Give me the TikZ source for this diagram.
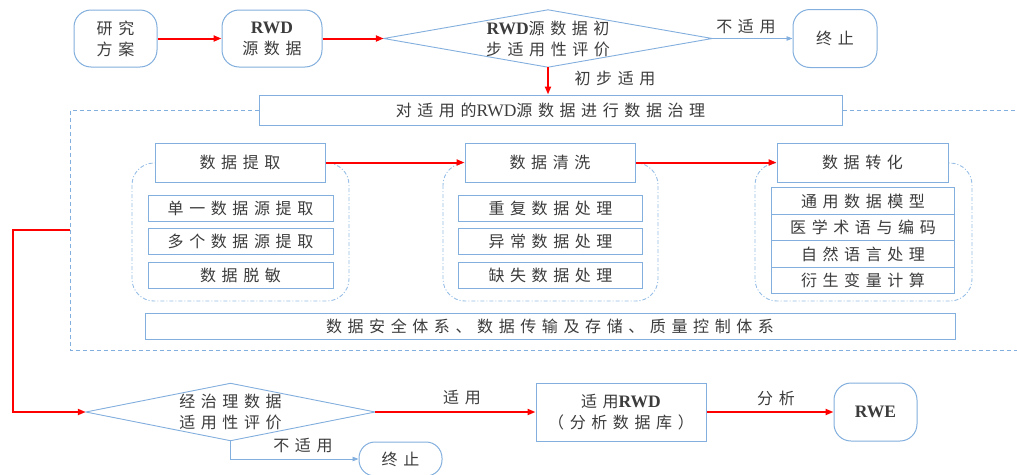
\documentclass[tikz,border=0pt]{standalone}
\usepackage{fontspec}
\setmainfont{Liberation Serif}
\newfontfamily\cjk[LetterSpace=35]{Noto Sans CJK SC}
\usetikzlibrary{shapes.geometric,arrows.meta}
\definecolor{bl}{RGB}{130,175,222}
\definecolor{bld}{RGB}{150,190,230}
\definecolor{tx}{RGB}{60,60,60}
\newcommand{\rwd}[1]{{\rmfamily\bfseries\fontsize{17.5}{18}\selectfont #1}}
\tikzset{
  txt/.style={font=\cjk\fontsize{16}{21}\selectfont, text=tx, align=center},
  rbox/.style={txt, draw=bl, line width=1pt, rounded corners=17pt, fill=white, inner sep=0pt},
  sbox/.style={txt, draw=bl, line width=1pt, fill=white, inner sep=0pt},
  dia/.style={txt, inner sep=0pt},
  diaedge/.style={draw=bl, line width=0.9pt, fill=white},
  redarr/.style={draw=red, line width=2pt, -{Triangle[length=8pt,width=6pt]}},
  bluearr/.style={draw=bl, line width=0.9pt, -{Triangle[length=6pt,width=4.5pt]}},
  lbl/.style={txt, inner sep=0pt},
  frame/.style={draw=bl, line width=1pt, dash pattern=on 4pt off 3pt},
  grp/.style={draw=bld, line width=0.9pt, dash pattern=on 4pt off 2pt on 1pt off 2pt, rounded corners=22pt}
}
\begin{document}
\begin{tikzpicture}[x=1pt,y=-1pt]
\useasboundingbox (0,0) rectangle (1017,474);
\clip (0,0) rectangle (1017,474);

% top row
\node[rbox, minimum width=83pt, minimum height=57pt] (A) at (115.5,38.5) {研究\\方案};
\node[rbox, minimum width=100pt, minimum height=57pt] (B) at (272,38.5) {\rwd{RWD}\\源数据};
\node[dia, minimum width=328pt, minimum height=57pt] (D1) at (548,38.5) {};
\draw[diaedge] (D1.west) -- (D1.north) -- (D1.east) -- (D1.south) -- cycle;
\node[txt, inner sep=0pt] (D1t) at (D1.center) {\rwd{RWD}源数据初\\步适用性评价};
\node[rbox, minimum width=84pt, minimum height=58pt] (E1) at (835,38.5) {终止};

\draw[redarr] (A.east) -- (B.west);
\draw[redarr] (B.east) -- (D1.west);
\draw[bluearr] (D1.east) -- (E1.west);
\node[lbl] (l1) at (746,27) {不适用};

% governance header
\node[sbox, minimum width=583pt, minimum height=30pt] (G) at (550.5,110) {对适用的\rwd{\mdseries RWD}源数据进行数据治理};
\draw[redarr] (D1.south) -- (D1.south |- G.north);
\node[lbl] (l2) at (615,78) {初步适用};

% dashed frame
\coordinate (f) at (70,230);
\draw[frame] (G.west) -- (70,110) -- (70,350) -- (1020,350);
\draw[frame] (G.east) -- (1020,110);

% group containers
\draw[grp] (132,163) rectangle (349,301);
\draw[grp] (443,163) rectangle (658,301);
\draw[grp] (755,163) rectangle (972,301);

% headers
\node[sbox, minimum width=170pt, minimum height=39pt] (P1) at (240,162.5) {数据提取};
\node[sbox, minimum width=170pt, minimum height=39pt] (P2) at (550,162.5) {数据清洗};
\node[sbox, minimum width=171pt, minimum height=39pt] (P3) at (862.5,162.5) {数据转化};
\draw[redarr] (P1.east) -- (P2.west);
\draw[redarr] (P2.east) -- (P3.west);

% column 1
\node[sbox, minimum width=185pt, minimum height=26pt] (c11) at (240.5,208) {单一数据源提取};
\node[sbox, minimum width=185pt, minimum height=26pt] (c12) at (240.5,241) {多个数据源提取};
\node[sbox, minimum width=185pt, minimum height=26pt] (c13) at (240.5,275) {数据脱敏};
% column 2
\node[sbox, minimum width=184pt, minimum height=26pt] (c21) at (550.5,208) {重复数据处理};
\node[sbox, minimum width=184pt, minimum height=26pt] (c22) at (550.5,241) {异常数据处理};
\node[sbox, minimum width=184pt, minimum height=26pt] (c23) at (550.5,275) {缺失数据处理};
% column 3
\node[sbox, minimum width=183pt, minimum height=26.5pt] (c31) at (863,201) {通用数据模型};
\node[sbox, minimum width=183pt, minimum height=26.5pt] (c32) at (863,227.5) {医学术语与编码};
\node[sbox, minimum width=183pt, minimum height=26.5pt] (c33) at (863,254) {自然语言处理};
\node[sbox, minimum width=183pt, minimum height=26.5pt] (c34) at (863,280.5) {衍生变量计算};

% bottom bar
\node[sbox, minimum width=810pt, minimum height=26pt] (S) at (550,326) {数据安全体系、数据传输及存储、质量控制体系};

% lower row
\node[dia, minimum width=289pt, minimum height=57pt] (D2) at (230.5,412) {};
\draw[diaedge] (D2.west) -- (D2.north) -- (D2.east) -- (D2.south) -- cycle;
\node[txt, inner sep=0pt] (D2t) at (D2.center) {经治理数据\\适用性评价};
\node[rbox, rounded corners=16pt, minimum width=83pt, minimum height=34pt] (E2) at (400.5,459) {终止};
\node[sbox, minimum width=170pt, minimum height=58pt] (R) at (621,412) {适用\rwd{RWD}\\（分析数据库）};
\node[rbox, minimum width=83pt, minimum height=58pt] (W) at (875.5,412) {\rwd{RWE}};

\draw[redarr] (f) -- (13,230) |- (D2.west);
\draw[redarr] (D2.east) -- (R.west);
\draw[redarr] (R.east) -- (W.west);
\draw[bluearr] (D2.south) |- (E2.west);
\node[lbl] (l3) at (462,398) {适用};
\node[lbl] (l4) at (776,398) {分析};
\node[lbl] (l5) at (303,446) {不适用};
\end{tikzpicture}
\end{document}
